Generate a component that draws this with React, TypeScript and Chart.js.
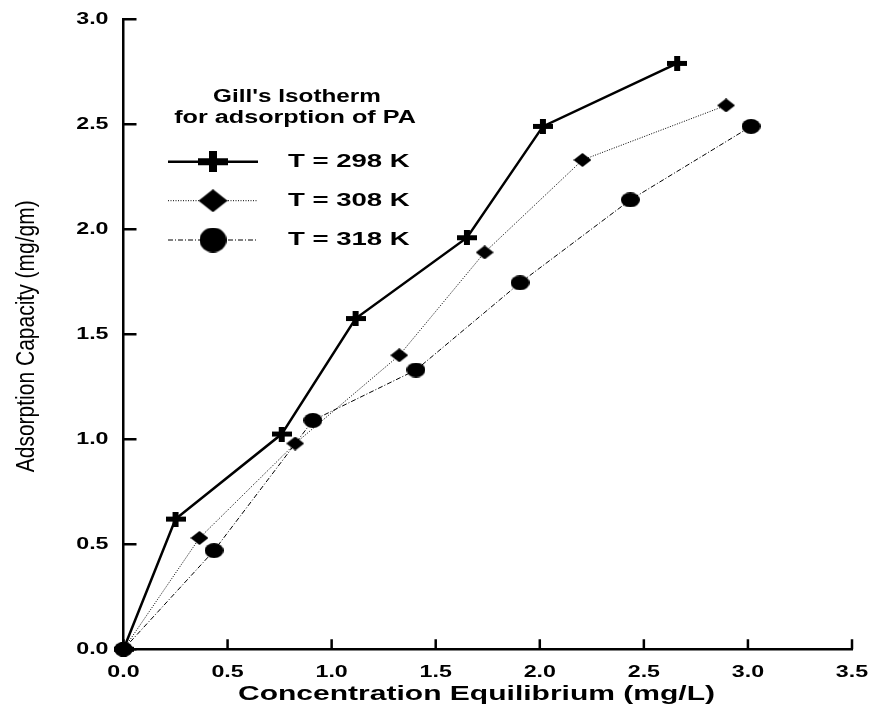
import React, { useEffect, useRef } from 'react';
import { Chart, registerables } from 'chart.js';

Chart.register(...registerables);

// ---- Data ----
const X_TICKS = [0, 0.5, 1.0, 1.5, 2.0, 2.5, 3.0, 3.5];
const Y_TICKS = [0, 0.5, 1.0, 1.5, 2.0, 2.5, 3.0];
const SERIES_LABELS = ['T = 298 K', 'T = 308 K', 'T = 318 K'];
const CE_298 = [0, 0.25, 0.76, 1.115, 1.65, 2.015, 2.66];
const QE_298 = [0, 0.62, 1.025, 1.575, 1.96, 2.49, 2.79];
const CE_308 = [0, 0.365, 0.825, 1.325, 1.735, 2.205, 2.895];
const QE_308 = [0, 0.53, 0.98, 1.4, 1.89, 2.33, 2.59];
const CE_318 = [0, 0.435, 0.91, 1.405, 1.905, 2.435, 3.015];
const QE_318 = [0, 0.47, 1.09, 1.33, 1.745, 2.14, 2.49];
const LEGEND_TITLE = ["Gill's Isotherm", 'for adsorption of PA'];
const X_TITLE = 'Concentration Equilibrium (mg/L)';
const Y_TITLE = 'Adsorption Capacity (mg/gm)';

const FAMILY = '"Liberation Sans", Arial, sans-serif';

function makeCanvas(w: number, h: number, draw: (g: CanvasRenderingContext2D) => void) {
  const c = document.createElement('canvas');
  c.width = w;
  c.height = h;
  const g = c.getContext('2d')!;
  g.fillStyle = '#000';
  draw(g);
  return c;
}
const crossMarker = (w: number, h: number, tv: number, th: number) =>
  makeCanvas(w, h, (g) => {
    g.fillRect(0, (h - th) / 2, w, th);
    g.fillRect((w - tv) / 2, 0, tv, h);
  });
const diamondMarker = (w: number, h: number) =>
  makeCanvas(w, h, (g) => {
    g.beginPath();
    g.moveTo(w / 2, 0);
    g.lineTo(w, h / 2);
    g.lineTo(w / 2, h);
    g.lineTo(0, h / 2);
    g.closePath();
    g.fill();
  });
const ellipseMarker = (w: number, h: number) =>
  makeCanvas(w, h, (g) => {
    g.beginPath();
    g.ellipse(w / 2, h / 2, w / 2, h / 2, 0, 0, Math.PI * 2);
    g.fill();
  });

function stext(
  ctx: CanvasRenderingContext2D,
  text: string,
  x: number,
  y: number,
  font: string,
  sx: number,
  align: CanvasTextAlign
) {
  ctx.save();
  ctx.font = font;
  ctx.textAlign = align;
  ctx.textBaseline = 'middle';
  ctx.translate(x, y);
  ctx.scale(sx, 1);
  ctx.fillText(text, 0, 0);
  ctx.restore();
}

export default function App() {
  const ref = useRef<HTMLCanvasElement>(null);

  useEffect(() => {
    const prevMargin = document.body.style.margin;
    document.body.style.margin = '0';

    const dataMarkers = [crossMarker(20, 15, 6, 5), diamondMarker(18, 14), ellipseMarker(19, 15)];
    const legendMarkers = [crossMarker(30, 21, 8, 7), diamondMarker(29, 23), ellipseMarker(27, 25)];
    const lineStyles = [
      { width: 2.5, dash: [] as number[] },
      { width: 1, dash: [1, 1.5] },
      { width: 1, dash: [5, 2, 1, 2] },
    ];
    const xs = [CE_298, CE_308, CE_318];
    const ys = [QE_298, QE_308, QE_318];

    const decor = {
      id: 'decor',
      afterDraw(chart: any) {
        const { ctx, chartArea: ca } = chart;
        const sx = chart.scales.x;
        const sy = chart.scales.y;
        ctx.save();
        ctx.fillStyle = '#000';
        ctx.strokeStyle = '#000';
        ctx.lineWidth = 2.5;
        ctx.setLineDash([]);
        // inward tick marks
        ctx.beginPath();
        for (const t of sx.ticks) {
          const px = sx.getPixelForValue(t.value);
          ctx.moveTo(px, ca.bottom);
          ctx.lineTo(px, ca.bottom - 10);
        }
        for (const t of sy.ticks) {
          const py = sy.getPixelForValue(t.value);
          ctx.moveTo(ca.left, py);
          ctx.lineTo(ca.left + 13, py);
        }
        ctx.stroke();
        // tick labels
        const tickFont = `bold 16px ${FAMILY}`;
        for (const t of sx.ticks) {
          stext(ctx, Number(t.value).toFixed(1), sx.getPixelForValue(t.value), ca.bottom + 23, tickFont, 1.45, 'center');
        }
        for (const t of sy.ticks) {
          stext(ctx, Number(t.value).toFixed(1), ca.left - 15, sy.getPixelForValue(t.value), tickFont, 1.45, 'right');
        }
        // axis titles
        stext(ctx, X_TITLE, 476.5, ca.bottom + 44.5, `bold 21px ${FAMILY}`, 1.43, 'center');
        ctx.save();
        ctx.translate(27, (ca.top + ca.bottom) / 2 + 2);
        ctx.rotate(-Math.PI / 2);
        ctx.scale(1, 1.2);
        ctx.font = `21px ${FAMILY}`;
        ctx.textAlign = 'center';
        ctx.textBaseline = 'middle';
        ctx.fillText(Y_TITLE, 0, 0);
        ctx.restore();
        // legend
        const legFont = `bold 18px ${FAMILY}`;
        stext(ctx, LEGEND_TITLE[0], 297, 96.7, legFont, 1.35, 'center');
        stext(ctx, LEGEND_TITLE[1], 295, 118.3, legFont, 1.4, 'center');
        const rowY = [161.7, 200.7, 240];
        chart.data.datasets.forEach((ds: any, i: number) => {
          const yy = rowY[i];
          ctx.save();
          ctx.lineWidth = ds.borderWidth;
          ctx.setLineDash(ds.borderDash || []);
          ctx.beginPath();
          ctx.moveTo(168, yy);
          ctx.lineTo(258, yy);
          ctx.stroke();
          ctx.restore();
          const m = legendMarkers[i];
          ctx.drawImage(m, 213 - m.width / 2, yy - m.height / 2);
          stext(ctx, ds.label, 288, yy, `bold 19px ${FAMILY}`, 1.45, 'left');
        });
        ctx.restore();
      },
    };

    const chart = new Chart(ref.current!, {
      type: 'line',
      data: {
        datasets: SERIES_LABELS.map((label, i) => ({
          label,
          data: xs[i].map((x, j) => ({ x, y: ys[i][j] })),
          borderColor: '#000',
          backgroundColor: '#000',
          borderWidth: lineStyles[i].width,
          borderDash: lineStyles[i].dash,
          pointStyle: dataMarkers[i] as any,
          pointRadius: 9,
          pointHoverRadius: 9,
          tension: 0,
          fill: false,
          clip: false as any,
        })),
      },
      options: {
        animation: false,
        responsive: true,
        maintainAspectRatio: false,
        layout: { padding: { left: 8, right: 21, top: 19.3, bottom: 0 } },
        plugins: { legend: { display: false }, tooltip: { enabled: false }, title: { display: false } },
        scales: {
          x: {
            type: 'linear',
            min: 0,
            max: 3.5,
            afterBuildTicks: (s: any) => {
              s.ticks = X_TICKS.map((v) => ({ value: v }));
            },
            afterFit: (s: any) => {
              s.height = 59.7;
            },
            ticks: { display: false },
            grid: { display: false, drawTicks: false },
            border: { display: true, color: '#000', width: 2.5 },
          },
          y: {
            type: 'linear',
            min: 0,
            max: 3,
            afterBuildTicks: (s: any) => {
              s.ticks = Y_TICKS.map((v) => ({ value: v }));
            },
            afterFit: (s: any) => {
              s.width = 115.5;
            },
            ticks: { display: false },
            grid: { display: false, drawTicks: false },
            border: { display: true, color: '#000', width: 2.5 },
          },
        },
      },
      plugins: [decor],
    });
    return () => {
      chart.destroy();
      document.body.style.margin = prevMargin;
    };
  }, []);

  return (
    <div style={{ width: 873, height: 709, position: 'relative', overflow: 'hidden' }}>
      <canvas ref={ref} />
    </div>
  );
}
